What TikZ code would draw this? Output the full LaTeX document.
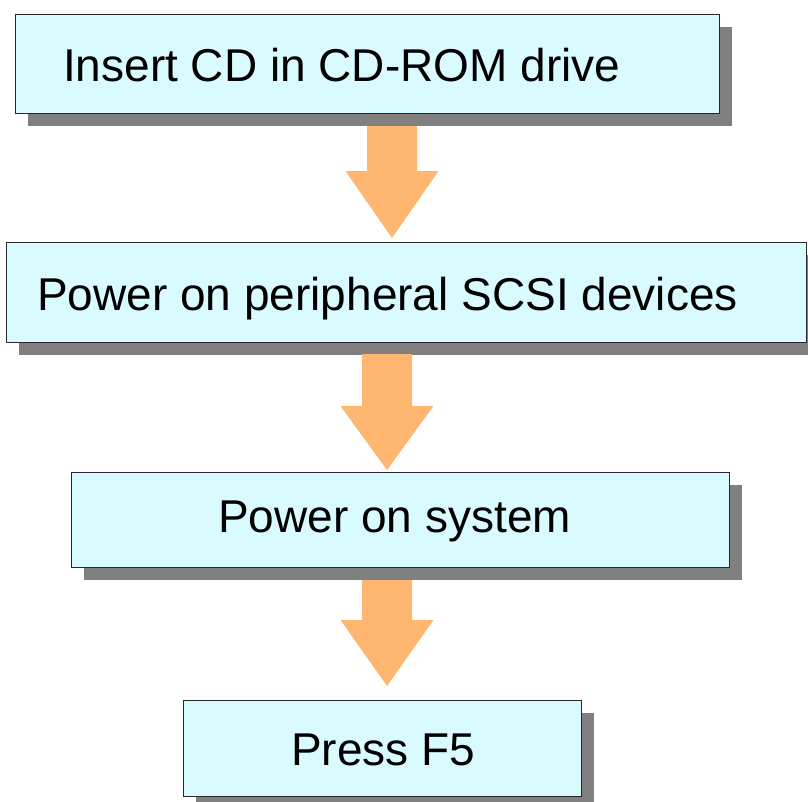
\documentclass[tikz,border=0pt]{standalone}
\usepackage{fontspec}
\setmainfont{Liberation Sans}
\usetikzlibrary{shadows}

\definecolor{boxfill}{RGB}{217,250,255}
\definecolor{shadowgray}{RGB}{128,128,128}
\definecolor{arroworange}{RGB}{255,182,112}
\definecolor{boxline}{RGB}{40,40,40}

\tikzset{
  stepbox/.style={draw=boxline, line width=1.2pt, fill=boxfill, inner sep=0pt,
    anchor=north west,
    drop shadow={shadow xshift=12pt, shadow yshift=-12pt, fill=shadowgray, opacity=1}},
  steplabel/.style={anchor=base west, inner sep=0pt, font=\fontsize{46}{55}\selectfont},
  flowarrow/.style={fill=arroworange},
}

% block arrow: centre x, shaft top, head top, tip
\newcommand{\blockarrow}[4]{%
  \fill[flowarrow] (#1-25,#2) -- (#1+25,#2) -- (#1+25,#3) -- (#1+46.5,#3)
    -- (#1,#4) -- (#1-46.5,#3) -- (#1-25,#3) -- cycle;}

\begin{document}
\begin{tikzpicture}[x=1pt, y=-1pt]
  \useasboundingbox (0,0) rectangle (808,801);

  % step boxes
  \node[stepbox, minimum width=704pt, minimum height=99pt] (b1) at (15,14) {};
  \node[stepbox, minimum width=800pt, minimum height=100pt] (b2) at (6,242) {};
  \node[stepbox, minimum width=658pt, minimum height=95pt] (b3) at (71,472) {};
  \node[stepbox, minimum width=398pt, minimum height=96pt] (b4) at (183,700) {};

  % step texts
  \node[steplabel] (t1) at (63,81) {Insert CD in CD-ROM drive};
  \node[steplabel] (t2) at (37,310) {Power on peripheral SCSI devices};
  \node[steplabel] (t3) at (218,532) {Power on system};
  \node[steplabel] (t4) at (291,765) {Press F5};

  % arrows between the steps
  \blockarrow{392}{126}{171}{238}
  \blockarrow{387}{354}{406}{470}
  \blockarrow{387}{580}{620}{686}
\end{tikzpicture}
\end{document}
